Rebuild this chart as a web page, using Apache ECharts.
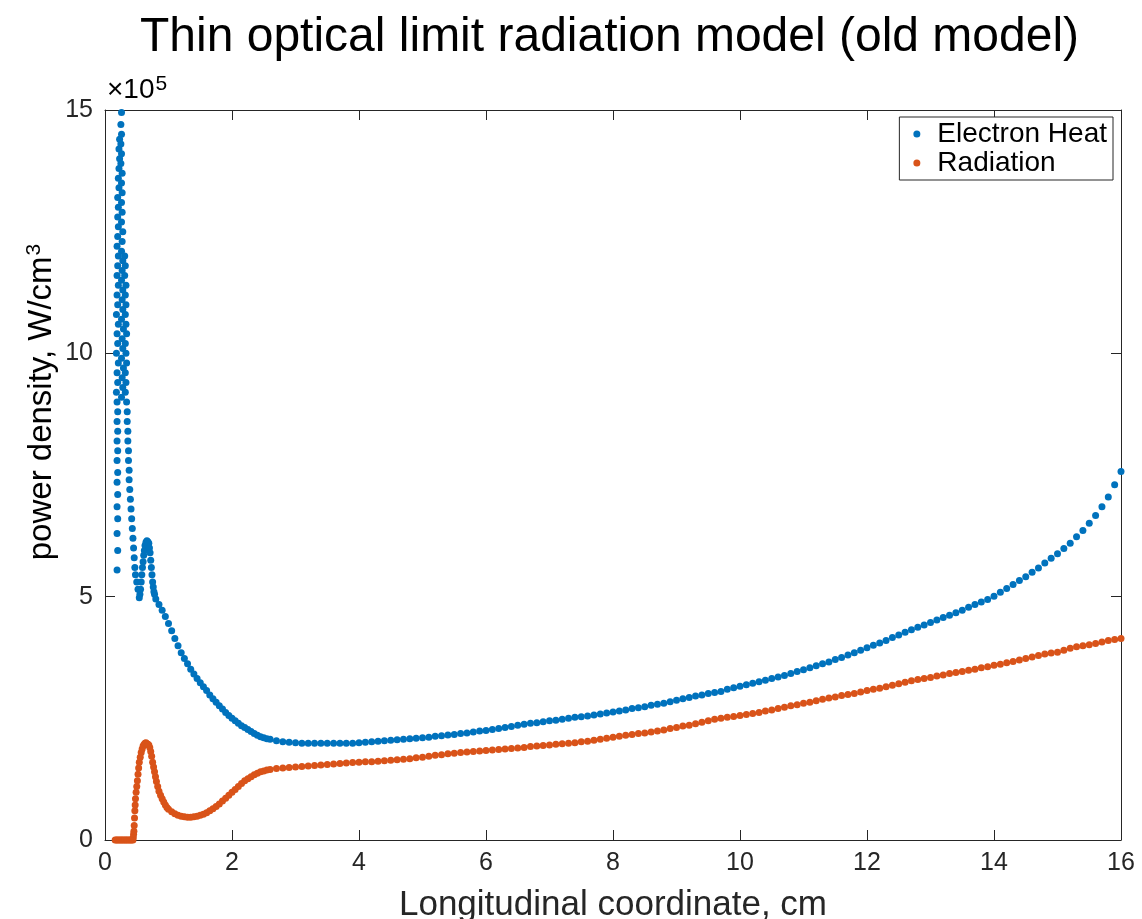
<!DOCTYPE html>
<html>
<head>
<meta charset="utf-8">
<script src="https://cdn.jsdelivr.net/npm/echarts@6/dist/echarts.min.js"></script>
<style>html,body{margin:0;padding:0;background:#fff;}#c{width:1142px;height:919px;}</style>
</head>
<body>
<div id="c"></div>
<script>
// Values are in units of 1e5 W/cm^3, x in cm
// Electron heat: the narrow spike near the inlet
const heatSpikeX = [
0.19,0.20,0.19,0.20,0.19,0.20,0.19,0.20,0.19,0.20,0.19,0.20,0.19,0.20,0.19,
0.18,0.20,0.19,0.21,0.18,0.20,0.19,0.21,0.18,0.20,0.19,0.21,0.19,0.20,0.21,0.19,0.20,0.21,0.20,0.21,0.20,0.22,0.21,0.22,0.23,0.22,0.23,
0.26,0.28,0.27,0.29,0.26,0.28,0.27,0.29,0.26,0.28,0.27,0.28,0.26,0.27,0.28,0.26,0.27,0.28,0.26,0.27,0.26,0.27,0.26,0.27,0.25,0.26,0.25,0.26,0.25,0.26,
0.32,0.33,0.32,0.34,0.33,0.32,0.34,0.33,0.32,0.33,0.32,0.33,0.31,0.32,0.31,
0.34,0.35,0.35,0.36,0.36,0.37,0.37,0.38,0.38,0.39,0.40,0.41,0.42,0.43,0.44,0.45,0.46,0.47,0.48,0.50,0.52,0.54,
0.55,0.56,0.57,0.58,0.59,0.60,0.61,0.62,0.63,0.645,0.66,0.675,0.69,0.70,0.71,0.72,0.73,0.74,0.75,0.76,0.77,0.78
];
const heatSpikeY = [
5.55,5.95,6.3,6.6,6.85,7.1,7.35,7.55,7.8,8.0,8.2,8.4,8.6,8.8,9.0,
9.2,9.4,9.6,9.8,10.0,10.2,10.4,10.6,10.8,11.0,11.2,11.4,11.6,11.8,12.0,12.2,12.4,12.6,12.8,13.0,13.2,13.4,13.6,13.8,14.0,14.2,14.4,
9.1,9.3,9.5,9.7,9.9,10.1,10.3,10.5,10.7,10.9,11.1,11.3,11.5,11.7,11.9,12.1,12.3,12.5,12.7,12.9,13.1,13.3,13.5,13.7,13.9,14.1,14.3,14.5,14.7,14.95,
9.2,9.4,9.6,9.8,10.0,10.2,10.4,10.6,10.8,11.0,11.2,11.4,11.6,11.8,12.0,
9.0,8.8,8.6,8.4,8.2,8.0,7.8,7.6,7.4,7.2,7.0,6.8,6.6,6.4,6.2,6.0,5.8,5.6,5.45,5.3,5.15,4.98,
5.05,5.15,5.3,5.45,5.6,5.72,5.85,5.95,6.05,6.12,6.15,6.13,6.1,6.0,5.9,5.75,5.6,5.45,5.3,5.2,5.1,5.05
];
// Electron heat: the smooth part
const heatCurveX = [
0.80,0.85,0.90,0.95,1.00,1.05,1.10,1.15,1.20,1.25,1.30,1.35,1.40,1.45,1.50,1.55,1.60,1.65,1.70,1.75,1.80,1.85,1.90,1.95,2.00,2.05,2.10,2.15,2.20,2.25,2.30,2.35,2.40,2.45,2.50,2.55,
2.6,2.7,2.8,2.9,3.0,3.1,3.2,3.3,3.4,3.5,3.6,3.7,3.8,3.9,
4.0,4.1,4.2,4.3,4.4,4.5,4.6,4.7,4.8,4.9,5.0,5.1,5.2,5.3,5.4,5.5,5.6,5.7,5.8,5.9,6.0,6.1,6.2,6.3,6.4,6.5,6.6,6.7,6.8,6.9,
7.0,7.1,7.2,7.3,7.4,7.5,7.6,7.7,7.8,7.9,8.0,8.1,8.2,8.3,8.4,8.5,8.6,8.7,8.8,8.9,9.0,9.1,9.2,9.3,9.4,9.5,9.6,9.7,9.8,9.9,
10.0,10.1,10.2,10.3,10.4,10.5,10.6,10.7,10.8,10.9,11.0,11.1,11.2,11.3,11.4,11.5,11.6,11.7,11.8,11.9,12.0,12.1,12.2,12.3,12.4,12.5,12.6,12.7,12.8,12.9,
13.0,13.1,13.2,13.3,13.4,13.5,13.6,13.7,13.8,13.9,14.0,14.1,14.2,14.3,14.4,14.5,14.6,14.7,14.8,14.9,15.0,15.1,15.2,15.3,15.4,15.5,15.6,15.7,15.8,15.9,16.0
];
const heatCurveY = [
4.95,4.84,4.72,4.59,4.45,4.3,4.14,3.99,3.85,3.73,3.62,3.51,3.41,3.32,3.23,3.15,3.07,2.98,2.9,2.83,2.76,2.69,2.62,2.56,2.5,2.45,2.4,2.35,2.31,2.27,2.23,2.19,2.15,2.12,2.1,2.08,
2.07,2.04,2.02,2.01,2.0,1.99,1.99,1.99,1.99,1.99,1.99,1.99,1.99,1.99,
2.0,2.01,2.02,2.03,2.04,2.05,2.06,2.07,2.08,2.09,2.1,2.11,2.13,2.14,2.16,2.17,2.19,2.2,2.22,2.24,2.25,2.27,2.29,2.31,2.33,2.36,2.38,2.4,2.41,2.43,
2.45,2.46,2.48,2.5,2.52,2.53,2.55,2.57,2.59,2.61,2.63,2.65,2.67,2.7,2.72,2.74,2.77,2.79,2.81,2.84,2.87,2.9,2.93,2.96,2.98,3.01,3.03,3.05,3.1,3.13,
3.16,3.19,3.22,3.25,3.28,3.32,3.35,3.38,3.42,3.46,3.5,3.54,3.58,3.62,3.66,3.71,3.75,3.8,3.85,3.9,3.95,4.0,4.05,4.1,4.16,4.21,4.27,4.32,4.37,4.42,
4.47,4.52,4.57,4.62,4.67,4.72,4.78,4.84,4.89,4.94,5.01,5.09,5.17,5.25,5.33,5.41,5.5,5.59,5.69,5.79,5.88,5.99,6.1,6.23,6.36,6.51,6.67,6.85,7.05,7.3,7.57
];
// Radiation: the bump near the inlet
const radPeakX = [
0.16,0.18,0.20,0.22,0.24,0.26,0.28,0.30,0.32,0.34,0.36,0.38,0.40,0.42,0.44,
0.445,0.45,0.455,0.46,0.465,0.47,0.475,0.48,0.49,0.50,0.51,0.52,0.53,0.54,0.555,0.57,0.585,0.60,0.615,0.63,0.645,0.66,0.675,0.69,0.705,0.72,0.735,0.75,0.765,0.78,0.795,0.81,0.83,0.85,0.875,0.90,0.925,0.95,0.975,
1.00,1.05,1.10,1.15,1.20,1.25,1.30,1.35,1.40,1.45,1.50,1.55,1.60,1.65,1.70,1.75,1.80,1.85,1.90,1.95,2.00,2.05,2.10,2.15,2.20,2.25,2.30,2.35,2.40,2.45,2.50,2.55
];
const radPeakY = [
0,0,0,0,0,0,0,0,0,0,0,0,0,0,0,
0.05,0.12,0.18,0.3,0.45,0.6,0.72,0.85,0.98,1.1,1.22,1.35,1.48,1.6,1.7,1.8,1.87,1.93,1.96,1.99,2.0,1.98,1.97,1.95,1.9,1.82,1.72,1.6,1.5,1.4,1.3,1.2,1.1,1.0,0.92,0.85,0.78,0.72,0.67,
0.63,0.58,0.54,0.51,0.49,0.48,0.47,0.47,0.48,0.49,0.51,0.53,0.56,0.6,0.64,0.69,0.74,0.8,0.86,0.92,0.98,1.04,1.1,1.16,1.22,1.26,1.3,1.34,1.37,1.4,1.42,1.44
];
// Radiation: the smooth part
const radCurveX = [
2.6,2.7,2.8,2.9,3.0,3.1,3.2,3.3,3.4,3.5,3.6,3.7,3.8,3.9,
4.0,4.1,4.2,4.3,4.4,4.5,4.6,4.7,4.8,4.9,5.0,5.1,5.2,5.3,5.4,5.5,5.6,5.7,5.8,5.9,6.0,6.1,6.2,6.3,6.4,6.5,6.6,6.7,6.8,6.9,
7.0,7.1,7.2,7.3,7.4,7.5,7.6,7.7,7.8,7.9,8.0,8.1,8.2,8.3,8.4,8.5,8.6,8.7,8.8,8.9,9.0,9.1,9.2,9.3,9.4,9.5,9.6,9.7,9.8,9.9,
10.0,10.1,10.2,10.3,10.4,10.5,10.6,10.7,10.8,10.9,11.0,11.1,11.2,11.3,11.4,11.5,11.6,11.7,11.8,11.9,12.0,12.1,12.2,12.3,12.4,12.5,12.6,12.7,12.8,12.9,
13.0,13.1,13.2,13.3,13.4,13.5,13.6,13.7,13.8,13.9,14.0,14.1,14.2,14.3,14.4,14.5,14.6,14.7,14.8,14.9,15.0,15.1,15.2,15.3,15.4,15.5,15.6,15.7,15.8,15.9,16.0
];
const radCurveY = [
1.45,1.47,1.48,1.49,1.5,1.51,1.52,1.53,1.54,1.55,1.56,1.57,1.58,1.59,
1.6,1.61,1.61,1.62,1.63,1.64,1.65,1.66,1.67,1.69,1.7,1.72,1.74,1.75,1.77,1.78,1.8,1.81,1.82,1.83,1.84,1.85,1.86,1.87,1.88,1.89,1.9,1.92,1.93,1.94,
1.95,1.97,1.98,1.99,2.0,2.02,2.03,2.05,2.07,2.09,2.11,2.13,2.15,2.17,2.19,2.2,2.22,2.24,2.26,2.29,2.31,2.34,2.36,2.39,2.42,2.45,2.48,2.5,2.52,2.54,
2.56,2.58,2.6,2.62,2.65,2.67,2.7,2.73,2.76,2.78,2.81,2.83,2.86,2.89,2.92,2.94,2.97,2.99,3.01,3.04,3.07,3.1,3.12,3.15,3.18,3.21,3.24,3.27,3.3,3.32,
3.34,3.37,3.39,3.42,3.44,3.46,3.49,3.51,3.54,3.56,3.59,3.61,3.64,3.67,3.7,3.73,3.76,3.79,3.82,3.84,3.86,3.9,3.94,3.97,3.99,4.01,4.04,4.07,4.1,4.12,4.14
];
const seriesNames = ['Electron Heat','Radiation'];

const pairs = (xs, ys) => xs.map((x,i)=>[x, ys[i]]);
const heatData = pairs(heatSpikeX, heatSpikeY).concat(pairs(heatCurveX, heatCurveY));
const radData = pairs(radPeakX, radPeakY).concat(pairs(radCurveX, radCurveY));

const FONT = 'Liberation Sans, Helvetica, Arial, sans-serif';
const AX = '#262626';
const chart = echarts.init(document.getElementById('c'), null, {renderer:'canvas'});
const axisCommon = {
  axisLine:{show:true, onZero:false, lineStyle:{color:AX, width:1}},
  axisTick:{show:true, inside:true, length:10, lineStyle:{color:AX, width:1}},
  splitLine:{show:false}
};
chart.setOption({
  animation:false,
  backgroundColor:'#fff',
  title:{text:'Thin optical limit radiation model (old model)', left:135, top:9,
     textStyle:{fontFamily:FONT, fontSize:48, fontWeight:'normal', color:'#000'}},
  graphic:[
    {type:'text', left:107, top:74, silent:true,
     style:{text:'{x|×}{n|10}{s|5}', fontFamily:FONT, rich:{
       x:{fontFamily:FONT, fontSize:28, color:AX, verticalAlign:'bottom', lineHeight:30},
       n:{fontFamily:FONT, fontSize:28, color:AX, verticalAlign:'bottom', lineHeight:30},
       s:{fontFamily:FONT, fontSize:21, color:AX, verticalAlign:'top', lineHeight:18, padding:[0,0,14,1]}
     }}},
    {type:'text', x:42, y:402, rotation:Math.PI/2, silent:true,
     style:{text:'{a|power density, W/cm}{b|3}', align:'center', verticalAlign:'middle', fontFamily:FONT, rich:{
       a:{fontFamily:FONT, fontSize:33, color:AX, lineHeight:36},
       b:{fontFamily:FONT, fontSize:21, color:AX, verticalAlign:'top', lineHeight:20, padding:[0,0,22,1]}
     }}}
  ],
  legend:{
    orient:'vertical', right:29, top:117,
    data:seriesNames,
    icon:'circle', itemWidth:7, itemHeight:7, itemGap:1,
    borderColor:AX, borderWidth:1, backgroundColor:'#fff', borderRadius:0,
    padding:[3,6,3,14],
    textStyle:{fontFamily:FONT, fontSize:28, color:'#000', lineHeight:28, padding:[0,0,0,12]}
  },
  grid:{left:105, right:21, top:110, bottom:79, containLabel:false, outerBoundsMode:'none'},
  xAxis:[
    Object.assign({type:'value', min:0, max:16, interval:2, position:'bottom',
      name:'Longitudinal coordinate, cm', nameLocation:'middle', nameGap:48,
      nameTextStyle:{fontFamily:FONT, fontSize:35, color:AX},
      axisLabel:{fontFamily:FONT, fontSize:25, color:AX, margin:11}}, axisCommon),
    Object.assign({type:'value', min:0, max:16, interval:2, position:'top',
      axisLabel:{show:false}}, axisCommon)
  ],
  yAxis:[
    Object.assign({type:'value', min:0, max:15, interval:5, position:'left',
      axisLabel:{fontFamily:FONT, fontSize:25, color:AX, margin:12}}, axisCommon),
    Object.assign({type:'value', min:0, max:15, interval:5, position:'right',
      axisLabel:{show:false}}, axisCommon)
  ],
  series:[
    {name:seriesNames[0], type:'scatter', data:heatData, symbol:'circle', symbolSize:7,
     itemStyle:{color:'#0072BD', opacity:1}, xAxisIndex:0, yAxisIndex:0},
    {name:seriesNames[1], type:'scatter', data:radData, symbol:'circle', symbolSize:7,
     itemStyle:{color:'#D95319', opacity:1}, xAxisIndex:0, yAxisIndex:0}
  ]
});
</script>
</body>
</html>
